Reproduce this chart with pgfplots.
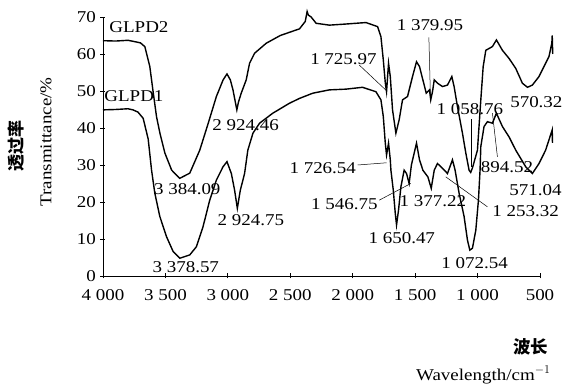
\documentclass[border=0pt]{standalone}
\usepackage{fontspec}
\setmainfont{Liberation Serif}[FakeStretch=1.15]
\newfontfamily\cjk{Noto Sans CJK SC}
\usepackage{pgfplots}
\pgfplotsset{compat=1.18}
\begin{document}
\begin{tikzpicture}[font=\fontsize{16.5}{19}\selectfont]
\path[use as bounding box] (0,0) rectangle (566pt,387pt);
\begin{axis}[
  at={(103pt,111pt)}, anchor=south west,
  scale only axis, width=437pt, height=259pt,
  x dir=reverse, xmin=500, xmax=4000, ymin=0, ymax=70,
  clip=false,
  axis lines=left, axis line style={-, line width=0.8pt},
  tick style={line width=0.8pt, black}, major tick length=5pt,
  xtick={500,1000,1500,2000,2500,3000,3500,4000},
  xticklabels={500,1 000,1 500,2 000,2 500,3 000,3 500,4 000},
  ytick={0,10,20,30,40,50,60,70},
  yticklabels={0,10,20,30,40,50,60,70},
  xticklabel style={yshift=-8pt},
  yticklabel style={xshift=-1pt},
]
\addplot[black, line width=1.4pt] coordinates {
(4000,63.6)(3900,63.5)(3800,63.7)(3740,63.3)(3700,63)(3665,62)(3625,56.6)(3597,49.4)
(3571,43)(3544,38.6)(3504,33.2)(3450,28.6)(3385,26.4)(3305,27.8)(3225,34)(3157,41.3)
(3092,48.5)(3038,53)(3007,54.6)(2980,53)(2959,50.3)(2940,47)(2928,44.9)(2915,47)
(2893,49.4)(2853,53)(2826,57.5)(2786,60.2)(2693,62.9)(2580,65)(2426,66.8)(2380,68.8)
(2365,71.5)(2355,70.5)(2333,70)(2293,68.3)(2187,67.8)(2054,68.1)(1894,68.5)(1801,67.4)
(1774,64.7)(1755,58.4)(1739,52.2)(1729,49.8)(1713,57.5)(1699,53.9)(1681,44.9)(1654,38.6)
(1628,42.2)(1601,47.6)(1561,48.5)(1521,53.9)(1489,57.9)(1465,56.6)(1438,53)(1411,49.4)
(1385,50.3)(1375,47.6)(1360,50)(1347,53)(1321,52.1)(1281,51.2)(1241,51.6)(1206,53.9)
(1188,51.2)(1161,45.8)(1121,38.6)(1094,33.2)(1068,28.6)(1055,28)(1041,29.2)(1001,34)
(974,47.6)(955,56.6)(934,61)(881,62)(849,63.8)(801,61)(748,58.8)(694,56.1)(641,52.1)
(600,51)(561,51.6)(508,53.9)(428,59.3)(405,63)(402,65)(398,60)
};
\addplot[black, line width=1.4pt] coordinates {
(4000,44.9)(3900,45)(3800,45.2)(3760,44.9)(3720,44.3)(3678,42.6)(3638,37)(3611,28.6)
(3585,22.4)(3545,16.1)(3491,10.6)(3438,6.6)(3385,4.8)(3305,5.7)(3252,7.9)(3199,13.3)
(3145,20.5)(3092,25.9)(3039,29.5)(3007,30.9)(2972,27.7)(2946,23.2)(2924,18.3)(2900,23.2)
(2866,27.7)(2840,34)(2799,38.6)(2746,41.3)(2640,44)(2506,46.7)(2426,48)(2320,49.4)
(2187,50.3)(2054,50.5)(1921,51)(1814,49.8)(1774,47.6)(1755,43.1)(1739,35.9)(1729,32.7)
(1713,35.9)(1699,31.4)(1694,28.6)(1675,23.2)(1659,16.9)(1649,13.8)(1633,17.8)(1614,24.1)
(1588,28.6)(1569,27.7)(1548,25)(1530,30)(1489,35.9)(1465,31.4)(1438,28.6)(1398,26.8)
(1371,23.7)(1347,28.6)(1321,30.4)(1281,29.1)(1241,27.7)(1201,31.4)(1180,28.6)(1148,22.4)
(1108,16.1)(1081,9.7)(1062,7)(1041,7.5)(1014,12.4)(993,20.5)(980,28.6)(974,35)(948,40.4)
(921,41.7)(881,41.3)(849,44)(801,40.4)(748,37.6)(694,34)(614,29.5)(561,27.7)(508,30.4)
(455,34)(402,39.5)(400,36)
};
% series names
\node at (axis cs:3712,67.3) {GLPD2};
\node at (axis cs:3752,48.5) {GLPD1};
% peak labels
\node at (axis cs:2857,40.8) {2 924.46};
\node at (axis cs:3325,23.4) {3 384.09};
\node at (axis cs:2815,15.1) {2 924.75};
\node at (axis cs:3337,2.5) {3 378.57};
\node at (axis cs:1381,67.8) {1 379.95};
\node at (axis cs:2074,58.6) {1 725.97};
\node at (axis cs:1061,45) {1 058.76};
\node at (axis cs:529,47.1) {570.32};
\node at (axis cs:765,29.5) {894.52};
\node at (axis cs:536,23.2) {571.04};
\node at (axis cs:2240,29.1) {1 726.54};
\node at (axis cs:2067,19.4) {1 546.75};
\node at (axis cs:1358,20.1) {1 377.22};
\node at (axis cs:615,17.4) {1 253.32};
\node at (axis cs:1607,10.2) {1 650.47};
\node at (axis cs:1024,3.4) {1 072.54};
% leader lines
\draw[line width=0.5pt] (axis cs:1947,57) -- (axis cs:1733,50.2);
\draw[line width=0.5pt] (axis cs:1390,64.5) -- (axis cs:1377,48);
\draw[line width=0.5pt] (axis cs:1054,42.3) -- (axis cs:1054,29.5);
\draw[line width=0.5pt] (axis cs:841,32.2) -- (axis cs:881,44);
\draw[line width=0.5pt] (axis cs:1960,30) -- (axis cs:1729,30.6);
\draw[line width=0.5pt] (axis cs:1787,20.5) -- (axis cs:1535,25);
\draw[line width=0.5pt] (axis cs:921,18.7) -- (axis cs:1255,26.8);
\end{axis}
\node[rotate=90] at (16.5pt,241pt) {\cjk\bfseries\fontsize{17}{20}\selectfont 透过率};
\node[rotate=90] at (46pt,245pt) {Transmittance/\%};
\node[anchor=east] at (552pt,40pt) {\cjk\bfseries\fontsize{17.5}{20}\selectfont 波长};
\node[anchor=east] at (554pt,12pt) {Wavelength/cm$^{-1}$};
\end{tikzpicture}
\end{document}
